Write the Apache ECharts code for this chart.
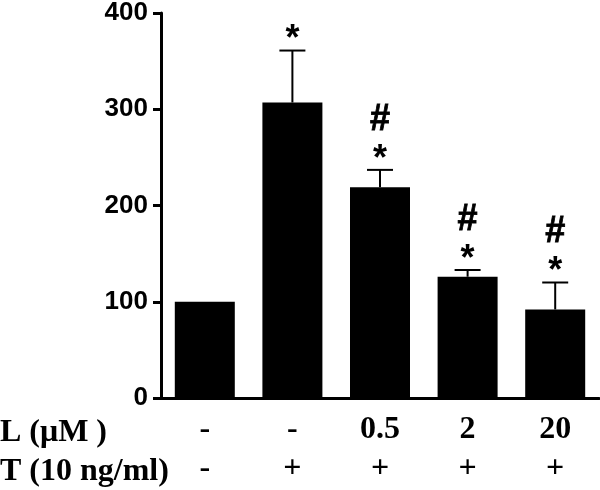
<!DOCTYPE html>
<html>
<head>
<meta charset="utf-8">
<script src="https://cdn.jsdelivr.net/npm/echarts@6/dist/echarts.min.js"></script>
<style>
html,body{margin:0;padding:0;background:#fff;}
#chart{width:600px;height:490px;}
</style>
</head>
<body>
<div id="chart"></div>
<script>
var categories = ['G1', 'G2', 'G3', 'G4', 'G5'];
var rowL = ['-', '-', '0.5', '2', '20'];
var rowT = ['-', '+', '+', '+', '+'];
var values = [100, 307, 219, 126, 92];
var errors = [0, 54, 18, 7, 28];
var stars = ['', '*', '*', '*', '*'];
var hashes = ['', '', '#', '#', '#'];
var yTicks = [0, 100, 200, 300, 400];

var chart = echarts.init(document.getElementById('chart'), null, {renderer: 'canvas'});

var errData = values.map(function (v, i) { return [i, v, v + errors[i], stars[i], hashes[i]]; });

var option = {
  animation: false,
  backgroundColor: '#fff',
  grid: {left: 161, top: 13, width: 438, height: 385, containLabel: false},
  xAxis: {
    type: 'category',
    data: categories,
    axisLine: {show: true, onZero: false, lineStyle: {color: '#000', width: 3}},
    axisTick: {show: false},
    axisLabel: {
      interval: 0,
      margin: 12,
      formatter: function (val, idx) { return rowL[idx] + '\n' + rowT[idx]; },
      fontFamily: '"Liberation Serif", "Times New Roman", serif',
      fontWeight: 'bold',
      fontSize: 32,
      lineHeight: 39,
      color: '#000'
    },
    splitLine: {show: false}
  },
  yAxis: {
    type: 'value',
    min: yTicks[0],
    max: yTicks[yTicks.length - 1],
    interval: 100,
    axisLine: {show: true, lineStyle: {color: '#000', width: 3}},
    axisTick: {show: true, inside: false, length: 8, lineStyle: {color: '#000', width: 3}},
    axisLabel: {
      margin: 13,
      fontFamily: '"Liberation Sans", Arial, sans-serif',
      fontWeight: 'bold',
      fontSize: 26,
      color: '#000'
    },
    splitLine: {show: false}
  },
  series: [
    {
      type: 'bar',
      data: values,
      barWidth: 60,
      itemStyle: {color: '#000'},
      z: 2
    },
    {
      type: 'custom',
      data: errData,
      z: 3,
      renderItem: function (params, api) {
        var x = api.value(0);
        var base = api.coord([x, api.value(1)]);
        var top = api.coord([x, api.value(2)]);
        var children = [];
        if (api.value(2) > api.value(1)) {
          children.push({type: 'line', shape: {x1: base[0], y1: base[1], x2: top[0], y2: top[1]}, style: {stroke: '#000', lineWidth: 2}});
          children.push({type: 'line', shape: {x1: top[0] - 13, y1: top[1], x2: top[0] + 13, y2: top[1]}, style: {stroke: '#000', lineWidth: 2}});
        }
        var s = api.value(3);
        var h = api.value(4);
        if (s) {
          children.push({type: 'text', x: top[0], y: top[1] + 8, style: {text: s, fill: '#000', font: 'bold 36px "Liberation Sans", Arial, sans-serif', align: 'center', verticalAlign: 'bottom'}});
        }
        if (h) {
          children.push({type: 'text', x: top[0], y: top[1] - 32, style: {text: h, fill: '#000', stroke: '#000', lineWidth: 0.8, font: 'bold 36px "Liberation Sans", Arial, sans-serif', align: 'center', verticalAlign: 'bottom'}});
        }
        return {type: 'group', children: children};
      }
    }
  ],
  graphic: [
    {type: 'text', left: 0, top: 417, style: {text: 'L (μM )', fill: '#000', font: 'bold 32px "Liberation Serif", "Times New Roman", serif'}},
    {type: 'text', left: 0, top: 456, style: {text: 'T (10 ng/ml)', fill: '#000', font: 'bold 32px "Liberation Serif", "Times New Roman", serif'}}
  ]
};
chart.setOption(option);
</script>
</body>
</html>
